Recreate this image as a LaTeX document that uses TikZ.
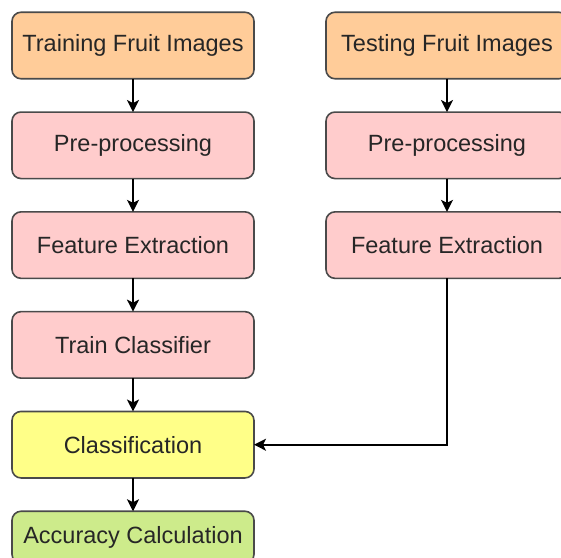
\documentclass[tikz,border=0pt]{standalone}
\usepackage{fontspec}
\setmainfont{Liberation Sans}
\usetikzlibrary{arrows.meta,positioning}

\definecolor{imgfill}{HTML}{FFCC99}
\definecolor{stepfill}{HTML}{FFCCCC}
\definecolor{clsfill}{HTML}{FFFF88}
\definecolor{accfill}{HTML}{CDEB8B}
\definecolor{edge}{HTML}{4A4A4A}

\begin{document}
\begin{tikzpicture}[
      x=1pt, y=1pt,
      font=\fontsize{23.5}{28}\selectfont,
      node distance=33.3pt,
      box/.style   = {draw=edge, rounded corners=9pt, line width=1.6pt,
                      minimum width=242pt, minimum height=66.5pt,
                      inner sep=2pt, outer sep=0pt, text=black!85},
      imgbox/.style  = {box, fill=imgfill},
      stepbox/.style = {box, fill=stepfill},
      sig/.style   = {-{Stealth[length=12pt,width=12pt,inset=3pt]}, line width=1.8pt},
    ]
    \useasboundingbox (0,0) rectangle (561,-557);

    % training branch
    \node[imgbox] (train) at (133,-45.5) {Training Fruit Images};
    \node[stepbox, below=of train] (trainpre) {Pre-processing};
    \node[stepbox, below=of trainpre] (trainfe) {Feature Extraction};
    \node[stepbox, below=of trainfe] (clf) {Train Classifier};
    \node[box, fill=clsfill, below=of clf] (cls) {Classification};
    \node[box, fill=accfill, below=of cls, minimum height=52pt] (acc) {Accuracy Calculation};

    % testing branch
    \node[imgbox] (test) at (447,-45.5) {Testing Fruit Images};
    \node[stepbox, below=of test] (testpre) {Pre-processing};
    \node[stepbox, below=of testpre] (testfe) {Feature Extraction};

    \draw[sig] (train) -- (trainpre);
    \draw[sig] (trainpre) -- (trainfe);
    \draw[sig] (trainfe) -- (clf);
    \draw[sig] (clf) -- (cls);
    \draw[sig] (cls) -- (acc);

    \draw[sig] (test) -- (testpre);
    \draw[sig] (testpre) -- (testfe);
    \draw[sig] (testfe.south) |- (cls.east);
  \end{tikzpicture}
\end{document}
